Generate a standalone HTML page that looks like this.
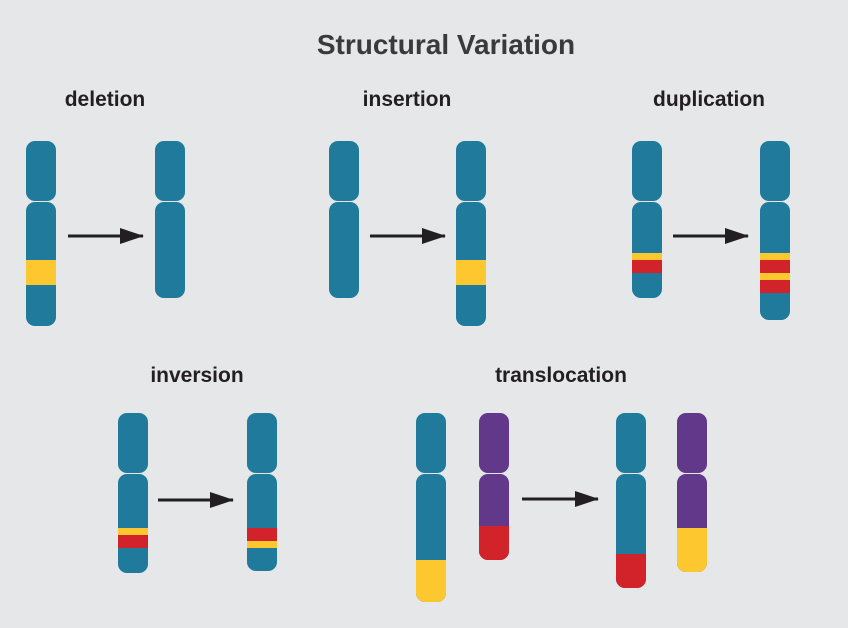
<!DOCTYPE html>
<html><head><meta charset="utf-8"><style>
html,body{margin:0;padding:0;background:#e6e7e9;}
svg{display:block}
text{font-family:"Liberation Sans",sans-serif;font-weight:bold;}
</style></head><body>
<svg width="848" height="628" viewBox="0 0 848 628" xmlns="http://www.w3.org/2000/svg">
<rect width="848" height="628" fill="#e6e7e9"/>
<defs>
<clipPath id="c1"><rect x="26" y="202" width="30" height="124" rx="9"/></clipPath>
<clipPath id="c2"><rect x="456" y="202" width="30" height="124" rx="9"/></clipPath>
<clipPath id="c3"><rect x="632" y="202" width="30" height="96" rx="9"/></clipPath>
<clipPath id="c4"><rect x="760" y="202" width="30" height="118" rx="9"/></clipPath>
<clipPath id="c5"><rect x="118" y="474" width="30" height="99" rx="9"/></clipPath>
<clipPath id="c6"><rect x="247" y="474" width="30" height="97" rx="9"/></clipPath>
<clipPath id="c7"><rect x="416" y="474" width="30" height="128" rx="9"/></clipPath>
<clipPath id="c8"><rect x="479" y="474" width="30" height="86" rx="9"/></clipPath>
<clipPath id="c9"><rect x="616" y="474" width="30" height="114" rx="9"/></clipPath>
<clipPath id="c10"><rect x="677" y="474" width="30" height="98" rx="9"/></clipPath>
<marker id="ah" markerWidth="24" markerHeight="16" refX="23" refY="8" orient="auto" markerUnits="userSpaceOnUse"><path d="M0,0 L24,8 L0,16 Z" fill="#231f20"/></marker>
</defs>
<text x="446" y="54" text-anchor="middle" font-size="28" fill="#3a3a3c">Structural Variation</text>
<g font-size="21" fill="#231f20" text-anchor="middle">
<text x="105" y="106">deletion</text>
<text x="407" y="106">insertion</text>
<text x="709" y="106">duplication</text>
<text x="197" y="382">inversion</text>
<text x="561" y="382">translocation</text>
</g>
<g fill="#1f7a9c">
<rect x="26" y="141" width="30" height="60" rx="9"/>
<g clip-path="url(#c1)"><rect x="26" y="202" width="30" height="124"/><rect x="26" y="260" width="30" height="25" fill="#fdc72f"/></g>
<rect x="155" y="141" width="30" height="60" rx="9"/>
<rect x="155" y="202" width="30" height="96" rx="9"/>
<rect x="329" y="141" width="30" height="60" rx="9"/>
<rect x="329" y="202" width="30" height="96" rx="9"/>
<rect x="456" y="141" width="30" height="60" rx="9"/>
<g clip-path="url(#c2)"><rect x="456" y="202" width="30" height="124"/><rect x="456" y="260" width="30" height="25" fill="#fdc72f"/></g>
<rect x="632" y="141" width="30" height="60" rx="9"/>
<g clip-path="url(#c3)"><rect x="632" y="202" width="30" height="96"/><rect x="632" y="253" width="30" height="7" fill="#fdc72f"/><rect x="632" y="260" width="30" height="13" fill="#d2232a"/></g>
<rect x="760" y="141" width="30" height="60" rx="9"/>
<g clip-path="url(#c4)"><rect x="760" y="202" width="30" height="118"/><rect x="760" y="253" width="30" height="7" fill="#fdc72f"/><rect x="760" y="260" width="30" height="13" fill="#d2232a"/><rect x="760" y="273" width="30" height="7" fill="#fdc72f"/><rect x="760" y="280" width="30" height="13" fill="#d2232a"/></g>
<rect x="118" y="413" width="30" height="60" rx="9"/>
<g clip-path="url(#c5)"><rect x="118" y="474" width="30" height="99"/><rect x="118" y="528" width="30" height="7" fill="#fdc72f"/><rect x="118" y="535" width="30" height="13" fill="#d2232a"/></g>
<rect x="247" y="413" width="30" height="60" rx="9"/>
<g clip-path="url(#c6)"><rect x="247" y="474" width="30" height="97"/><rect x="247" y="528" width="30" height="13" fill="#d2232a"/><rect x="247" y="541" width="30" height="7" fill="#fdc72f"/></g>
<rect x="416" y="413" width="30" height="60" rx="9"/>
<g clip-path="url(#c7)"><rect x="416" y="474" width="30" height="128"/><rect x="416" y="560" width="30" height="42" fill="#fdc72f"/></g>
<rect x="479" y="413" width="30" height="60" rx="9" fill="#62388a"/>
<g clip-path="url(#c8)"><rect x="479" y="474" width="30" height="86" fill="#62388a"/><rect x="479" y="526" width="30" height="34" fill="#d2232a"/></g>
<rect x="616" y="413" width="30" height="60" rx="9"/>
<g clip-path="url(#c9)"><rect x="616" y="474" width="30" height="114"/><rect x="616" y="554" width="30" height="34" fill="#d2232a"/></g>
<rect x="677" y="413" width="30" height="60" rx="9" fill="#62388a"/>
<g clip-path="url(#c10)"><rect x="677" y="474" width="30" height="98" fill="#62388a"/><rect x="677" y="528" width="30" height="44" fill="#fdc72f"/></g>
</g>
<g stroke="#231f20" stroke-width="3" marker-end="url(#ah)">
<line x1="68" y1="236" x2="143" y2="236"/>
<line x1="370" y1="236" x2="445" y2="236"/>
<line x1="673" y1="236" x2="748" y2="236"/>
<line x1="158" y1="500" x2="233" y2="500"/>
<line x1="522" y1="499" x2="598" y2="499"/>
</g>
</svg>
</body></html>
